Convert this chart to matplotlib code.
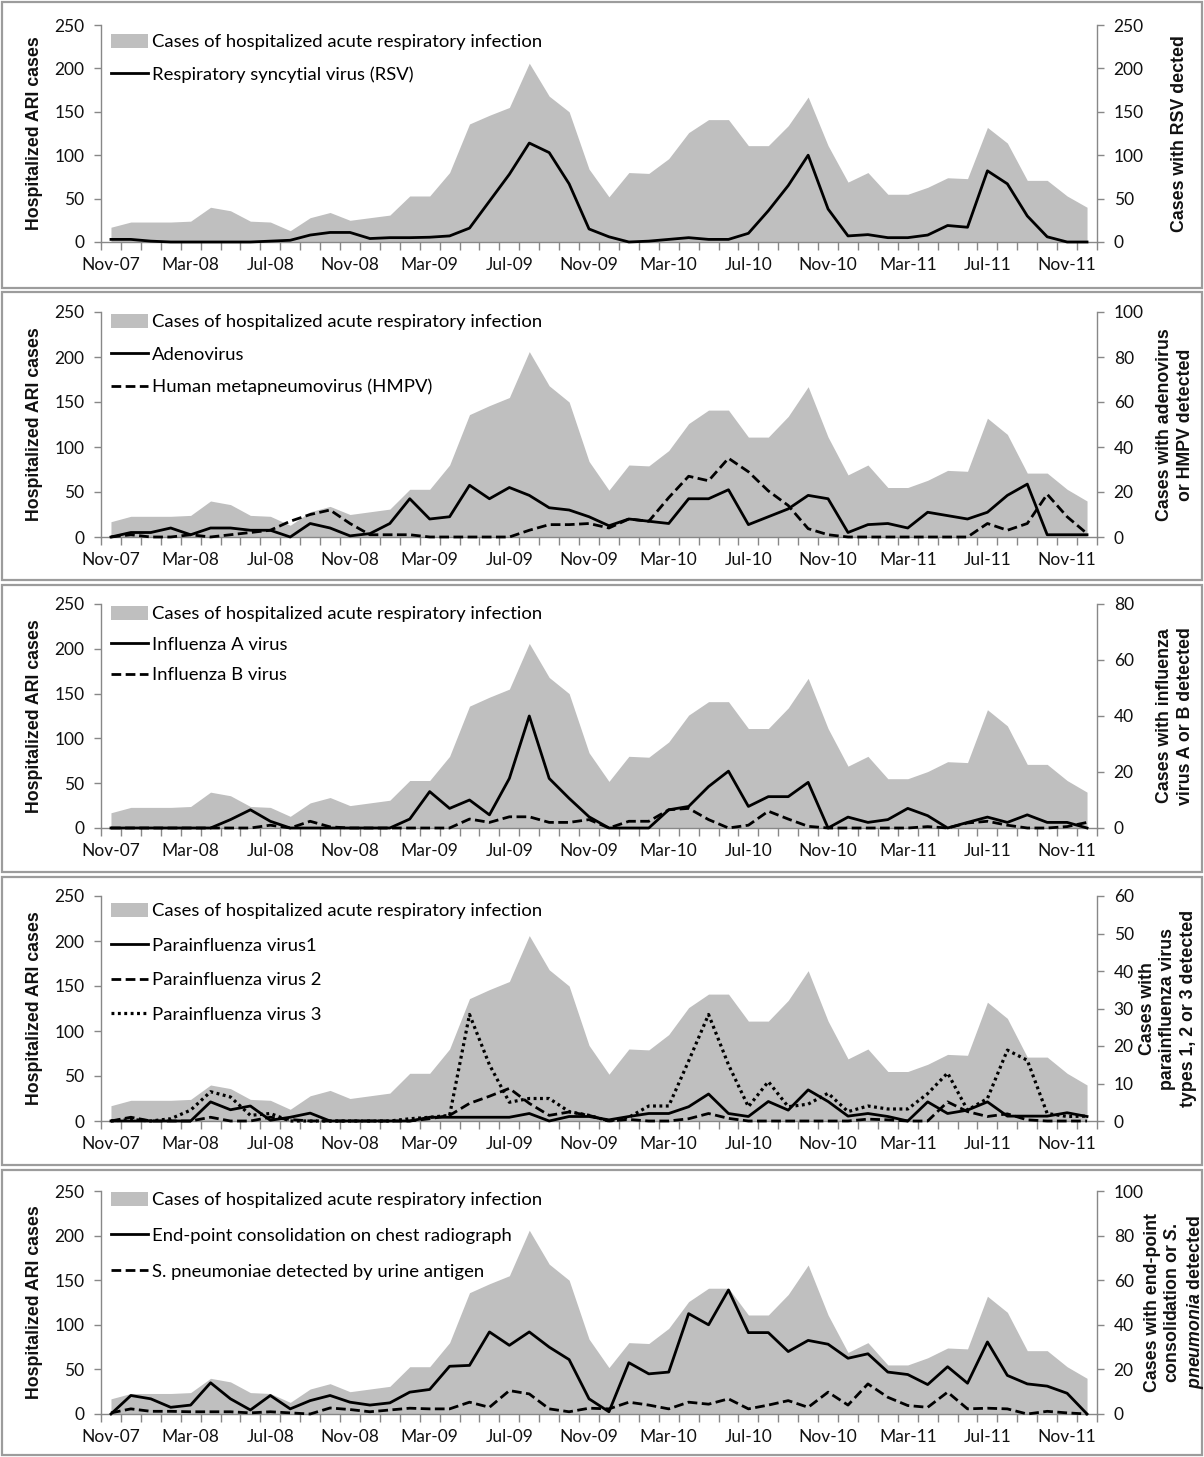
import matplotlib
matplotlib.use('Agg')
import matplotlib.pyplot as plt
from matplotlib.patches import Patch, Rectangle
from matplotlib.lines import Line2D
import numpy as np

plt.rcParams['font.family'] = 'Lato'
plt.rcParams['mathtext.fontset'] = 'custom'
plt.rcParams['mathtext.rm'] = 'Liberation Sans:bold'
plt.rcParams['mathtext.it'] = 'Liberation Sans:italic:bold'

# monthly data, Nov-07 .. Dec-11 (50 months)
tick_labels = ['Nov-07', 'Mar-08', 'Jul-08', 'Nov-08', 'Mar-09', 'Jul-09', 'Nov-09',
               'Mar-10', 'Jul-10', 'Nov-10', 'Mar-11', 'Jul-11', 'Nov-11']

ari = [17, 23, 23, 23, 24, 40, 36, 24, 23, 13, 28, 34, 25, 28, 31, 53, 53, 80, 136, 146,
       155, 206, 168, 150, 84, 52, 80, 79, 96, 126, 141, 141, 111, 111, 134, 167, 111, 69, 80, 55,
       55, 63, 74, 73, 132, 114, 71, 71, 53, 40]

rsv = [3, 3, 1, 0, 0, 0, 0, 0, 1, 2, 8, 11, 11, 4, 5, 5, 5.5, 7, 16, 47,
       78, 114, 103, 67, 15, 6, 0, 1, 3, 5, 3, 3, 10, 36, 65, 100, 38, 7, 8.5, 5,
       5, 8, 19, 17, 82, 67, 30, 6, 0, 0]

adeno = [0, 2, 2, 4, 1, 4, 4, 3, 3, 0, 6, 4, 0.5, 1.5, 6, 17, 8, 9, 23, 17,
         22, 18.5, 13, 12, 9, 5, 8, 7, 6, 17, 17, 21, 5.5, 9, 12.5, 18.5, 17, 2, 5.5, 6,
         4, 11, 9.5, 8, 11, 18.5, 23.5, 1, 1, 1]
hmpv = [0, 1, 0, 0, 1, 0, 1, 2, 3, 7, 10, 12, 6, 1, 1, 1, 0, 0, 0, 0,
        0, 3, 5.5, 5.5, 6, 4, 8, 7, 17.5, 27, 25, 35, 29, 20.5, 14, 3.7, 1, 0, 0, 0,
        0, 0, 0, 0, 6, 3, 6, 19, 9, 1.5]

flu_a = [0, 0, 0, 0, 0, 0, 3, 6.5, 2.4, 0, 0, 0, 0, 0, 0, 3.2, 13, 7, 10, 4.7,
         17.7, 40, 17.7, 10.6, 4, 0, 0, 0, 6.5, 7.7, 14.8, 20.3, 7.7, 11.2, 11.2, 16.3, 0, 3.9, 2, 3,
         7, 4.4, 0, 2, 3.9, 2, 4.7, 2, 2, 0]
flu_b = [0, 0, 0, 0, 0, 0, 0, 0, 1, 0, 2.4, 0.4, 0, 0, 0, 0, 0, 0, 3.2, 2,
         4, 4, 2, 2, 3, 0, 2.4, 2.4, 6.5, 7, 3, 0, 1, 6, 3.2, 0.6, 0, 0, 0, 0,
         0, 0.5, 0, 1.8, 2.4, 1, 0, 0, 0.5, 2]

para1 = [0, 0, 0, 0, 0, 5.1, 3, 4, 0.2, 1, 2.1, 0, 0, 0, 0, 0, 1, 1, 1, 1,
         1, 2, 0, 1.2, 1.2, 0.3, 1.2, 2, 2, 3.8, 7.2, 2, 1.2, 5.2, 2.9, 8.3, 5.2, 1.3, 2, 1.2,
         0, 5.1, 2, 2.9, 5.1, 1.3, 1.3, 1.3, 2.2, 1.2]
para2 = [0, 1, 0, 0, 0, 1, 0, 0, 1, 0.4, 0, 0, 0, 0, 0, 0, 0.6, 1.5, 4.7, 6.6,
         8.7, 4.7, 1.5, 2.4, 1.5, 0, 0.4, 0, 0, 0.6, 2, 0.7, 0, 0, 0, 0, 0, 0, 0.5, 0.3,
         0, 0, 5.1, 2.5, 1.2, 1.9, 0.3, 0, 0, 0]
para3 = [0, 0.4, 0, 0.6, 2.9, 7.8, 6.4, 1.5, 2, 0, 0, 0, 0, 0, 0, 0.6, 1, 1.5, 28.4, 15,
         5, 6, 6, 2.5, 1.5, 0, 1, 4, 4, 16, 28.4, 15, 3.8, 10.5, 3.8, 4.5, 7.4, 2.5, 4, 3.2,
         3.2, 7.3, 12.8, 2.9, 6, 18.9, 16.2, 2, 1.2, 1.3]

consol = [0, 8.3, 6.8, 3, 4, 14, 6.8, 1.8, 8.3, 2.3, 6, 8.3, 5.3, 4, 5, 9.8, 11, 21.4, 21.8, 36.8,
          30.8, 36.8, 30, 24.4, 6.8, 1, 23, 18, 18.8, 45, 40, 55.6, 36.5, 36.5, 28, 33, 31.3, 25, 27, 18.8,
          17.7, 13.2, 21.2, 13.8, 32.3, 17.3, 13.5, 12.5, 9.3, 0]
spneu = [0.5, 2.3, 1.2, 1.2, 1, 1, 1, 0.5, 1, 0.5, 0, 2.7, 2, 1, 1.8, 2.6, 2.3, 2.3, 5.3, 3,
         10.5, 9, 2.3, 1, 2.6, 2.3, 5.3, 4, 2.3, 5.3, 4.4, 6.8, 2.3, 4, 6, 3, 9.8, 4, 13.5, 7.5,
         3.8, 3, 9.8, 2.3, 2.6, 2.3, 0, 1.2, 0.5, 0]

ari_label = 'Cases of hospitalized acute respiratory infection'
SOLID = '-'
DASH = (0, (3.5, 1.6))
DOT = (0, (0.9, 1.1))

panels = [
    dict(series=[(rsv, 'Respiratory syncytial virus (RSV)', SOLID)],
         ymax=250, step=50, rlabel='Cases with RSV dected', rx=1180, lsp=0.85, dy=-9),
    dict(series=[(adeno, 'Adenovirus', SOLID), (hmpv, 'Human metapneumovirus (HMPV)', DASH)],
         ymax=100, step=20, rlabel='Cases with adenovirus\nor HMPV detected', rx=1175, lsp=0.87, dy=-2),
    dict(series=[(flu_a, 'Influenza A virus', SOLID), (flu_b, 'Influenza B virus', DASH)],
         ymax=80, step=20, rlabel='Cases with influenza\nvirus A or B detected', rx=1175, lsp=0.77, dy=-2),
    dict(series=[(para1, 'Parainfluenza virus1', SOLID), (para2, 'Parainfluenza virus 2', DASH),
                 (para3, 'Parainfluenza virus 3', DOT)],
         ymax=60, step=10, rlabel='Cases with\nparainfluenza virus\ntypes 1, 2 or 3 detected', rx=1168,
         lsp=0.98, dy=-7),
    dict(series=[(consol, 'End-point consolidation on chest radiograph', SOLID),
                 (spneu, 'S. pneumoniae detected by urine antigen', DASH)],
         ymax=100, step=20,
         rlabel='Cases with end-point\nconsolidation or $\\mathit{S.}$\n$\\mathit{pneumonia}$ detected',
         rx=1175, lsp=1.05, dy=-1),
]

W, H = 1204, 1457
fig = plt.figure(figsize=(W / 100, H / 100), dpi=100)
fig.patch.set_facecolor('white')

box_tops = [2, 292, 585, 877, 1170]
box_bots = [288, 580, 872, 1165, 1455]
ax_tops = [25, 312, 604, 896, 1191]
ax_bots = [242, 537, 828, 1121, 1414]
left_px, right_px = 101, 1097

GREY = '#bfbfbf'
AXC = '#888888'
x = np.arange(len(ari))

for k, p in enumerate(panels):
    fig.add_artist(Rectangle((2 / W, 1 - box_bots[k] / H), 1200 / W, (box_bots[k] - box_tops[k]) / H,
                             transform=fig.transFigure, fill=False, ec='#9c9c9c', lw=1.6))
    top, bot = ax_tops[k], ax_bots[k]
    ax = fig.add_axes([left_px / W, 1 - bot / H, (right_px - left_px) / W, (bot - top) / H])
    ax.fill_between(x, ari, 0, color=GREY, lw=0)
    ax.set_xlim(-0.5, len(ari) - 0.5)
    ax.set_ylim(0, 250)
    ax.set_yticks(np.arange(0, 251, 50))
    ax.set_xticks(np.arange(0, len(ari), 4))
    ax.set_xticklabels(tick_labels)
    ax.set_xticks(np.arange(-0.5, len(ari), 1), minor=True)
    ax.tick_params(axis='x', which='major', length=0, pad=11, labelsize=12.5, labelcolor='#111111')
    ax.tick_params(axis='x', which='minor', length=6, width=1, color=AXC)
    ax.tick_params(axis='y', length=5, width=1, color=AXC, pad=7, labelsize=12.5, labelcolor='#111111')
    for s in ('top', 'right'):
        ax.spines[s].set_visible(False)
    for s in ('left', 'bottom'):
        ax.spines[s].set_color(AXC)
        ax.spines[s].set_linewidth(1)
    ax.set_facecolor('none')

    ax2 = ax.twinx()
    ax2.set_ylim(0, p['ymax'])
    ax2.set_yticks(np.arange(0, p['ymax'] + 1, p['step']))
    ax2.tick_params(axis='y', length=5, width=1, color=AXC, pad=7, labelsize=12.5, labelcolor='#111111')
    for s in ('top', 'left', 'bottom'):
        ax2.spines[s].set_visible(False)
    ax2.spines['right'].set_color(AXC)
    ax2.spines['right'].set_linewidth(1)

    handles = [Patch(facecolor=GREY, edgecolor='none', label=ari_label)]
    for vals, lab, ls in p['series']:
        lw = 2.3 if ls == DOT else 2.0
        ax2.plot(x, vals, color='black', lw=lw, linestyle=ls, clip_on=False, zorder=3)
        handles.append(Line2D([], [], color='black', lw=lw, linestyle=ls, label=lab))

    hpx = bot - top
    ax2.legend(handles=handles, loc='upper left', frameon=False, fontsize=13.3,
               bbox_to_anchor=(10 / (right_px - left_px), 1 + p['dy'] / hpx),
               borderpad=0, borderaxespad=0, handlelength=2.03, handletextpad=0.18,
               handleheight=0.77, labelspacing=p['lsp'])

    ymid = 1 - (top + bot) / 2 / H
    fig.text(35 / W, ymid, 'Hospitalized ARI cases', rotation=90, ha='center', va='center',
             family='Liberation Sans', fontweight='bold', fontsize=12.8, color='#111111')
    fig.text(p['rx'] / W, ymid, p['rlabel'], rotation=90, ha='center', va='center',
             multialignment='center', family='Liberation Sans', fontweight='bold',
             fontsize=12.8, linespacing=1.25, color='#111111')

fig.savefig('out.png', dpi=100, facecolor='white')
